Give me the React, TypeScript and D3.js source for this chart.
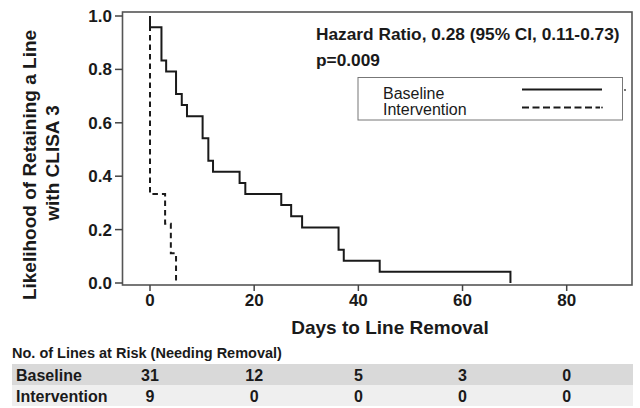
import React from "react";
import * as d3 from "d3";

const xTicks = [0, 20, 40, 60, 80];
const yTicks = [0, 0.2, 0.4, 0.6, 0.8, 1.0];

const baselineTimes = [0, 0, 2.2, 3.1, 5, 6.1, 7.1, 10.1, 11.2, 12.1, 17.2, 18.3, 25.2, 27.1, 29.2, 36.2, 37.2, 44.1, 69.2];
const baselineSurv = [1, 0.958, 0.833, 0.792, 0.708, 0.667, 0.625, 0.542, 0.458, 0.417, 0.375, 0.333, 0.292, 0.25, 0.208, 0.125, 0.083, 0.042, 0.0];

const interventionTimes = [0, 0, 2.9, 4.0, 5.0];
const interventionSurv = [1, 0.333, 0.222, 0.111, 0.0];

const riskTimes = [0, 20, 40, 60, 80];
const baselineAtRisk = [31, 12, 5, 3, 0];
const interventionAtRisk = [9, 0, 0, 0, 0];

const seriesNames = ["Baseline", "Intervention"];

const FONT = "'Liberation Sans', Arial, Helvetica, sans-serif";

export default function App() {
  const W = 640;
  const H = 408;
  const frameL = 122.5;
  const frameR = 632;
  const frameT = 12;
  const frameB = 285;

  const x = d3.scaleLinear().domain([0, 80]).range([150, 566.7]);
  const y = d3.scaleLinear().domain([0, 1]).range([283, 16]);

  const line = d3
    .line<[number, number]>()
    .x((d) => x(d[0]))
    .y((d) => y(d[1]))
    .curve(d3.curveStepAfter);

  const basePts: [number, number][] = baselineTimes.map((t, i) => [t, baselineSurv[i]]);
  const intPts: [number, number][] = interventionTimes.map((t, i) => [t, interventionSurv[i]]);

  return (
    <svg
      width={W}
      height={H}
      style={{ position: "absolute", left: 0, top: 0, background: "#fff" }}
      fontFamily={FONT}
    >
      <rect x={0} y={0} width={W} height={H} fill="#fff" />
      {/* frame */}
      <rect
        x={frameL}
        y={frameT}
        width={frameR - frameL}
        height={frameB - frameT}
        fill="none"
        stroke="#555"
        strokeWidth={1.6}
      />
      {/* y ticks */}
      {yTicks.map((t) => (
        <g key={"y" + t}>
          <line x1={115} x2={frameL} y1={y(t)} y2={y(t)} stroke="#444" strokeWidth={1.5} />
          <text
            x={112}
            y={y(t) + 6}
            textAnchor="end"
            fontSize={17}
            fontWeight="bold"
            fill="#1a1a1a"
          >
            {t.toFixed(1)}
          </text>
        </g>
      ))}
      {/* x ticks */}
      {xTicks.map((t) => (
        <g key={"x" + t}>
          <line x1={x(t)} x2={x(t)} y1={frameB} y2={frameB + 6} stroke="#444" strokeWidth={1.5} />
          <text x={x(t)} y={306} textAnchor="middle" fontSize={17} fontWeight="bold" fill="#1a1a1a">
            {t}
          </text>
        </g>
      ))}
      {/* axis titles */}
      <text x={390} y={334} textAnchor="middle" fontSize={19} fontWeight="bold" fill="#1a1a1a">
        Days to Line Removal
      </text>
      <g transform="translate(36,165) rotate(-90)">
        <text x={0} y={0} textAnchor="middle" fontSize={19} fontWeight="bold" fill="#1a1a1a">
          Likelihood of Retaining a Line
        </text>
      </g>
      <g transform="translate(59,163) rotate(-90)">
        <text x={0} y={0} textAnchor="middle" fontSize={19} fontWeight="bold" fill="#1a1a1a">
          with CLISA 3
        </text>
      </g>

      {/* curves */}
      <path d={line(basePts) || ""} fill="none" stroke="#1a1a1a" strokeWidth={2} />
      <path
        d={line(intPts) || ""}
        fill="none"
        stroke="#1a1a1a"
        strokeWidth={2}
        strokeDasharray="5.5,4"
      />

      {/* annotation */}
      <text x={316} y={40} fontSize={17.3} fontWeight="bold" fill="#1a1a1a">
        Hazard Ratio, 0.28 (95% CI, 0.11-0.73)
      </text>
      <text x={316} y={66} fontSize={17.3} fontWeight="bold" fill="#1a1a1a">
        p=0.009
      </text>

      {/* legend */}
      <rect x={358} y={77.5} width={264.5} height={42.5} fill="#fff" stroke="#777" strokeWidth={1} />
      <text x={383} y={98.5} fontSize={16} fill="#1a1a1a">
        {seriesNames[0]}
      </text>
      <text x={383} y={114.5} fontSize={16} fill="#1a1a1a">
        {seriesNames[1]}
      </text>
      <line x1={522} x2={602} y1={89.5} y2={89.5} stroke="#1a1a1a" strokeWidth={2} />
      <circle cx={625} cy={90} r={0.9} fill="#333" />
      <line x1={522} x2={600} y1={107.5} y2={107.5} stroke="#1a1a1a" strokeWidth={2} strokeDasharray="7,3.5" />
      <circle cx={602} cy={107.5} r={0.9} fill="#333" />

      {/* risk table */}
      <text x={12} y={358} fontSize={14.5} fontWeight="bold" fill="#1a1a1a">
        No. of Lines at Risk (Needing Removal)
      </text>
      <rect x={12} y={364} width={621} height={21} fill="#d9d9d9" />
      <rect x={12} y={385} width={621} height={21} fill="#efefef" />
      <text x={16} y={381} fontSize={16} fontWeight="bold" fill="#1a1a1a">
        {seriesNames[0]}
      </text>
      <text x={16} y={402} fontSize={16} fontWeight="bold" fill="#1a1a1a">
        {seriesNames[1]}
      </text>
      {riskTimes.map((t, i) => (
        <g key={"r" + t}>
          <text x={x(t)} y={381} textAnchor="middle" fontSize={16} fontWeight="bold" fill="#1a1a1a">
            {baselineAtRisk[i]}
          </text>
          <text x={x(t)} y={402} textAnchor="middle" fontSize={16} fontWeight="bold" fill="#1a1a1a">
            {interventionAtRisk[i]}
          </text>
        </g>
      ))}
    </svg>
  );
}
